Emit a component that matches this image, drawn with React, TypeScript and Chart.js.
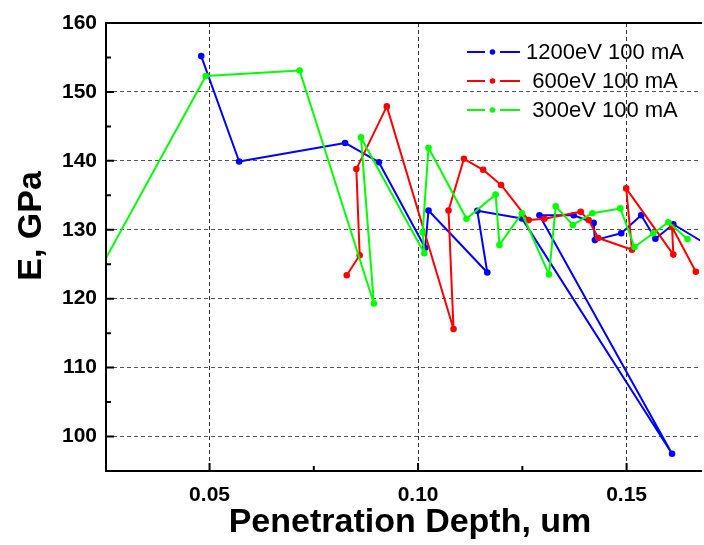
import React, { useEffect, useRef } from "react";
import { Chart, registerables } from "chart.js";
Chart.register(...registerables);

// ---- data ----
const SERIES_LABELS = ["1200eV 100 mA", "600eV 100 mA", "300eV 100 mA"];
const SERIES_COLORS = ["#0000FF", "#FF0000", "#00FF00"];

const blueX = [0.048, 0.0571, 0.0825, 0.0906, 0.1017, 0.1025, 0.1166, 0.1142, 0.1249, 0.1609, 0.1291, 0.1373, 0.1421, 0.1424, 0.1487, 0.1535, 0.1569, 0.1612, 0.17];
const blueY = [155.2, 139.9, 142.6, 139.8, 127.4, 132.8, 123.8, 132.75, 131.65, 97.5, 132.1, 132.1, 131.0, 128.5, 129.5, 132.1, 128.7, 130.8, 127.6];

const redX = [0.0829, 0.086, 0.0852, 0.0925, 0.1085, 0.1073, 0.111, 0.1156, 0.1199, 0.1265, 0.1303, 0.139, 0.1409, 0.1432, 0.1513, 0.1499, 0.1612, 0.1609, 0.1666];
const redY = [123.4, 126.3, 138.8, 147.9, 115.6, 132.8, 140.3, 138.7, 136.5, 131.4, 131.6, 132.6, 131.4, 128.8, 127.1, 136.0, 126.4, 130.4, 123.9];

const greenX = [0.02, 0.0491, 0.0716, 0.0894, 0.0863, 0.1015, 0.1011, 0.1025, 0.1116, 0.1186, 0.1195, 0.1249, 0.1314, 0.133, 0.1371, 0.1418, 0.1485, 0.1519, 0.1564, 0.16, 0.1646];
const greenY = [120.2, 152.3, 153.1, 119.3, 143.4, 126.6, 129.6, 141.9, 131.6, 135.1, 127.8, 132.4, 123.5, 133.4, 130.7, 132.4, 133.1, 127.5, 129.5, 131.1, 128.65];

const X_MIN = 0.02517;
const X_MAX = 0.1676;
const Y_MIN = 95;
const Y_MAX = 160;
const X_TICKS = [0.05, 0.1, 0.15];
const X_MINOR = [0.075, 0.125];
const Y_TICKS = [100, 110, 120, 130, 140, 150, 160];
const Y_MINOR = [105, 115, 125, 135, 145, 155];
const X_TITLE = "Penetration Depth, um";
const Y_TITLE = "E, GPa";

const FONT = "'Liberation Sans', Arial, sans-serif";

const toPoints = (xs: number[], ys: number[]) => xs.map((x, i) => ({ x, y: ys[i] }));

const decorPlugin = {
  id: "decor",
  afterDatasetsDraw(chart: any) {
    const { ctx, chartArea } = chart;
    const { left, right, top, bottom } = chartArea;
    const xs = chart.scales.x;
    const ys = chart.scales.y;
    ctx.save();
    ctx.strokeStyle = "#000";
    ctx.lineWidth = 2;
    ctx.setLineDash([]);
    ctx.beginPath();
    Y_TICKS.forEach((v) => {
      const p = ys.getPixelForValue(v);
      ctx.moveTo(left, p);
      ctx.lineTo(left + 8, p);
    });
    Y_MINOR.forEach((v) => {
      const p = ys.getPixelForValue(v);
      ctx.moveTo(left, p);
      ctx.lineTo(left + 5, p);
    });
    X_TICKS.forEach((v) => {
      const p = xs.getPixelForValue(v);
      ctx.moveTo(p, bottom);
      ctx.lineTo(p, bottom - 8);
    });
    X_MINOR.forEach((v) => {
      const p = xs.getPixelForValue(v);
      ctx.moveTo(p, bottom);
      ctx.lineTo(p, bottom - 5);
    });
    ctx.stroke();
    ctx.beginPath();
    ctx.moveTo(right + 2, top);
    ctx.lineTo(left, top);
    ctx.lineTo(left, bottom);
    ctx.lineTo(right + 2, bottom);
    ctx.stroke();
    ctx.restore();
  },
  afterDraw(chart: any) {
    const { ctx } = chart;
    ctx.save();
    ctx.fillStyle = "#000";
    ctx.font = `bold 34px ${FONT}`;
    ctx.textAlign = "center";
    ctx.textBaseline = "alphabetic";
    ctx.fillText(X_TITLE, 410, 532);
    ctx.save();
    ctx.translate(41, 226);
    ctx.rotate(-Math.PI / 2);
    ctx.fillText(Y_TITLE, 0, 0);
    ctx.restore();
    const rows = [52, 81, 110];
    chart.data.datasets.forEach((ds: any, i: number) => {
      const y = rows[i];
      ctx.strokeStyle = ds.borderColor;
      ctx.lineWidth = 2;
      ctx.beginPath();
      ctx.moveTo(467, y);
      ctx.lineTo(485, y);
      ctx.moveTo(500, y);
      ctx.lineTo(520, y);
      ctx.stroke();
      ctx.fillStyle = ds.borderColor;
      ctx.beginPath();
      ctx.arc(492.5, y, 2.8, 0, Math.PI * 2);
      ctx.fill();
      ctx.fillStyle = "#000";
      ctx.font = `22px ${FONT}`;
      ctx.textAlign = "center";
      ctx.textBaseline = "middle";
      ctx.fillText(ds.label, 605, y + 1);
    });
    ctx.restore();
  },
};

export default function App() {
  const ref = useRef<HTMLCanvasElement>(null);
  useEffect(() => {
    const mk = (i: number, xs: number[], ys: number[], order: number) => ({
      label: SERIES_LABELS[i],
      data: toPoints(xs, ys),
      borderColor: SERIES_COLORS[i],
      backgroundColor: SERIES_COLORS[i],
      pointBackgroundColor: SERIES_COLORS[i],
      pointBorderColor: SERIES_COLORS[i],
      pointRadius: 3.3,
      pointBorderWidth: 0,
      borderWidth: 2,
      borderJoinStyle: "round",
      borderCapStyle: "round",
      tension: 0,
      fill: false,
      order,
    });
    const chart = new Chart(ref.current as HTMLCanvasElement, {
      type: "line",
      data: {
        datasets: [
          mk(0, blueX, blueY, 3),
          mk(1, redX, redY, 2),
          mk(2, greenX, greenY, 1),
        ],
      },
      options: {
        animation: false,
        responsive: false,
        devicePixelRatio: 1,
        layout: { padding: { top: 23, right: 0, left: 0, bottom: 0 } },
        plugins: { legend: { display: false }, tooltip: { enabled: false } },
        scales: {
          x: {
            type: "linear",
            min: X_MIN,
            max: X_MAX,
            afterBuildTicks: (s: any) => {
              s.ticks = X_TICKS.map((v) => ({ value: v }));
            },
            afterFit: (s: any) => {
              s.height = 74;
            },
            ticks: {
              color: "#000",
              padding: 12,
              font: { family: FONT, size: 21, weight: "bold" },
              callback: (v: any) => Number(v).toFixed(2),
            },
            grid: { color: "#333", lineWidth: 1, drawTicks: false },
            border: { display: false, dash: [4, 3] },
            title: { display: false },
          },
          y: {
            type: "linear",
            min: Y_MIN,
            max: Y_MAX,
            afterBuildTicks: (s: any) => {
              s.ticks = Y_TICKS.map((v) => ({ value: v }));
            },
            afterFit: (s: any) => {
              s.width = 106;
            },
            ticks: {
              color: "#000",
              padding: 9,
              font: { family: FONT, size: 21, weight: "bold" },
              callback: (v: any) => String(v),
            },
            grid: { color: "#555", lineWidth: 1, drawTicks: false },
            border: { display: false, dash: [4, 3] },
            title: { display: false },
          },
        },
      },
      plugins: [decorPlugin],
    } as any);
    return () => chart.destroy();
  }, []);
  return (
    <div style={{ position: "absolute", left: 0, top: 0, width: 704, height: 545, background: "#fff", overflow: "hidden" }}>
      <canvas ref={ref} width={704} height={545} style={{ display: "block", width: 704, height: 545 }} />
    </div>
  );
}
